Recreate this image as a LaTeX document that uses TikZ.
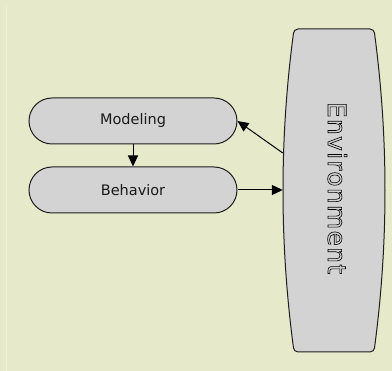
\documentclass[tikz,border=0pt]{standalone}
\usepackage{fontspec}
\setmainfont{DejaVu Sans}
\usetikzlibrary{arrows.meta,calc}

\definecolor{paper}{HTML}{E6EACA}
\definecolor{paperline}{HTML}{EFF1DD}
\definecolor{boxfill}{HTML}{D3D3D3}
\definecolor{boxline}{HTML}{1E1E1E}
\definecolor{ink}{HTML}{1A1A1A}

% hollow (stroked only) lettering
\newcommand{\hollowtext}[1]{\special{pdf:literal 1 Tr 0.6 w}#1\special{pdf:literal 0 Tr}}

\tikzset{
  capsule/.style={draw=boxline, fill=boxfill, line width=1pt, rounded corners=23pt,
    minimum width=208pt, minimum height=46pt, inner sep=0pt,
    text=ink, font=\fontsize{14.5}{16}\selectfont},
  flow/.style={draw=black, line width=1pt, -{Triangle[length=11pt,width=10pt]}},
}

\begin{document}
\begin{tikzpicture}[x=1pt,y=-1pt]
  % page
  \fill[paper] (0,0) rectangle (392,371);
  \useasboundingbox (0,0) rectangle (392,371);
  \draw[paperline, line width=0.8pt] (6,5) -- (6,371);

  % environment outline: flat ends, gently bulging sides
  \draw[boxline, fill=boxfill, line width=1pt]
    (298,29) -- (370,29)
    .. controls (372.6,29) and (374.2,31) .. (374.5,33)
    .. controls (388.5,138) and (388.5,243) .. (374.5,348)
    .. controls (374.2,350) and (372.6,352) .. (370,352)
    -- (298,352)
    .. controls (295.4,352) and (293.8,350) .. (293.5,348)
    .. controls (279.5,243) and (279.5,138) .. (293.5,33)
    .. controls (293.8,31) and (295.4,29) .. (298,29) -- cycle;
  \node[minimum width=102pt, minimum height=323pt, inner sep=0pt] (env) at (334,190.5) {};
  \node[rotate=-90, anchor=base, inner sep=0pt, text=black,
        font=\fontsize{25}{30}\selectfont\addfontfeatures{LetterSpace=5}]
        (envlabel) at (328,188) {\hollowtext{Environment}};

  % activities
  \node[capsule] (model) at (133,121) {Modeling};
  \node[capsule] (behav) at (133,190) {Behavior};

  % connectors
  \coordinate (envin) at (env.west |- behav.east);
  \coordinate (envout) at ($(env.west)+(0,-37.5)$);
  \draw[flow] (model.south) -- (behav.north);
  \draw[flow] (behav.east) -- (envin);
  \draw[flow] (envout) -- (model.east);
\end{tikzpicture}
\end{document}
